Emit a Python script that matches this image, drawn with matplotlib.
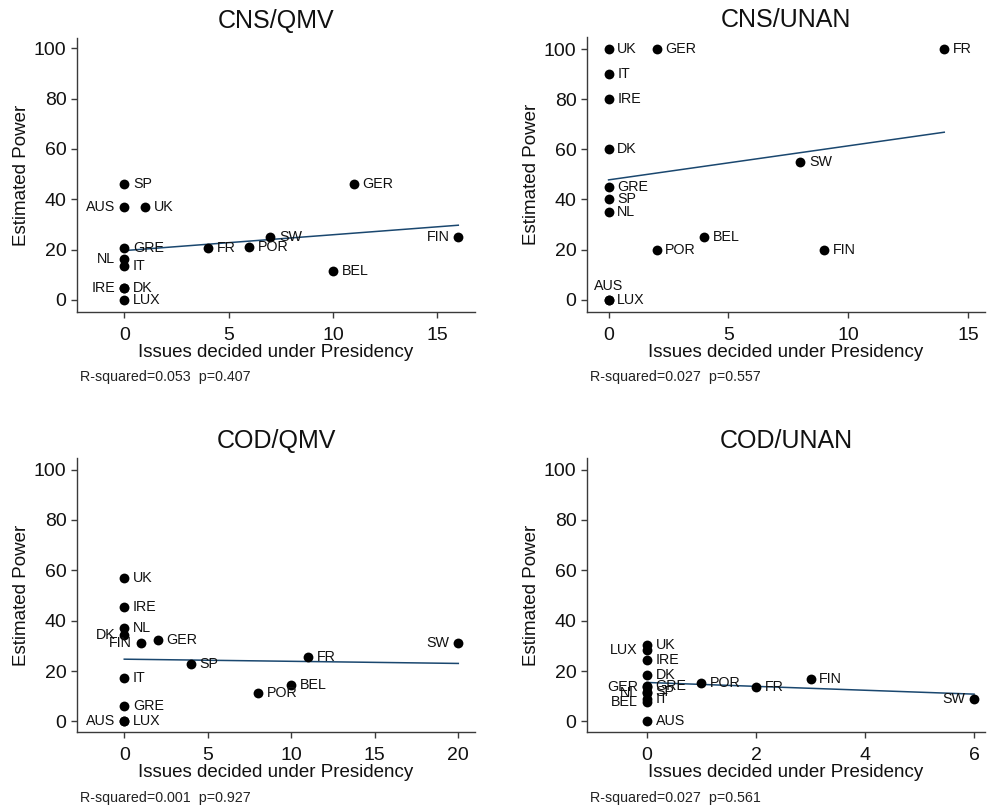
import matplotlib
matplotlib.use("Agg")
import matplotlib.pyplot as plt
import numpy as np

plt.rcParams['font.family'] = ['Liberation Sans', 'DejaVu Sans']

# ---------------- data ----------------
panel_titles = ["CNS/QMV", "CNS/UNAN", "COD/QMV", "COD/UNAN"]
fit_notes = ["R-squared=0.053  p=0.407", "R-squared=0.027  p=0.557",
             "R-squared=0.001  p=0.927", "R-squared=0.027  p=0.561"]

cns_qmv_countries = ["SP", "AUS", "UK", "GRE", "NL", "IT", "IRE", "DK", "LUX",
                     "FR", "POR", "SW", "GER", "BEL", "FIN"]
cns_qmv_issues = [0, 0, 1, 0, 0, 0, 0, 0, 0, 4, 6, 7, 11, 10, 16]
cns_qmv_power = [46, 37, 37, 20.5, 16.2, 13.5, 4.6, 4.6, 0, 20.5, 21.2, 25.2, 46, 11.3, 25.1]

cns_unan_countries = ["UK", "GER", "FR", "IT", "IRE", "DK", "SW", "GRE", "SP",
                      "NL", "BEL", "POR", "FIN", "AUS", "LUX"]
cns_unan_issues = [0, 2, 14, 0, 0, 0, 8, 0, 0, 0, 4, 2, 9, 0, 0]
cns_unan_power = [100, 100, 100, 90, 80, 60, 55, 45, 40, 35, 25, 20, 20, 0, 0]

cod_qmv_countries = ["UK", "IRE", "NL", "DK", "FIN", "GER", "SP", "IT", "GRE",
                     "AUS", "LUX", "POR", "BEL", "FR", "SW"]
cod_qmv_issues = [0, 0, 0, 0, 1, 2, 4, 0, 0, 0, 0, 8, 10, 11, 20]
cod_qmv_power = [57, 45.5, 37, 34.5, 31.2, 32.5, 22.8, 17.2, 6, 0, 0, 11.3, 14.3, 25.6, 31.1]

cod_unan_countries = ["UK", "LUX", "IRE", "DK", "GRE", "GER", "SP", "NL", "IT",
                      "BEL", "AUS", "POR", "FR", "FIN", "SW"]
cod_unan_issues = [0, 0, 0, 0, 0, 0, 0, 0, 0, 0, 0, 1, 2, 3, 6]
cod_unan_power = [30.3, 28.3, 24.3, 18.3, 14, 13.6, 11.8, 11.2, 8.8, 7.6, 0, 15.1, 13.6, 16.7, 9.1]

x_ticks_list = [[0, 5, 10, 15], [0, 5, 10, 15], [0, 5, 10, 15, 20], [0, 2, 4, 6]]
y_ticks = [0, 20, 40, 60, 80, 100]

# ---------------- styling / layout ----------------
# label placement: r = right, l = left, t = above
label_side = [
    ["r", "l", "r", "r", "l", "r", "l", "r", "r", "r", "r", "r", "r", "r", "l"],
    ["r", "r", "r", "r", "r", "r", "r", "r", "r", "r", "r", "r", "r", "t", "r"],
    ["r", "r", "r", "l", "l", "r", "r", "r", "r", "l", "r", "r", "r", "r", "l"],
    ["r", "l", "r", "r", "r", "l", "r", "l", "r", "l", "r", "r", "r", "r", "l"],
]
xlims = [(-2.26, 16.8), (-0.9, 15.7), (-2.83, 21.0), (-1.1, 6.2)]
ylims = [(-4.8, 104.1), (-4.9, 104.8), (-4.2, 104.6), (-4.2, 104.6)]

W, H = 991, 808
# (left, top, right, bottom) in pixels
boxes = [(77, 38, 475, 312), (587, 37, 985, 312),
         (77, 458, 475, 732), (587, 458, 985, 732)]
note_pos = [(80, 377), (590, 377), (80, 798), (590, 798)]

datasets = [
    (cns_qmv_countries, cns_qmv_issues, cns_qmv_power),
    (cns_unan_countries, cns_unan_issues, cns_unan_power),
    (cod_qmv_countries, cod_qmv_issues, cod_qmv_power),
    (cod_unan_countries, cod_unan_issues, cod_unan_power),
]

spine_col = "#3a3a3a"
line_col = "#1a476f"

fig = plt.figure(figsize=(W / 100, H / 100), dpi=100)
fig.patch.set_facecolor("white")

for i, (names, xs, ys) in enumerate(datasets):
    l, t, r, b = boxes[i]
    ax = fig.add_axes([l / W, (H - b) / H, (r - l) / W, (b - t) / H])
    xs_a = np.array(xs, dtype=float)
    ys_a = np.array(ys, dtype=float)
    ax.scatter(xs_a, ys_a, s=50, color="black", zorder=3, linewidths=0)
    slope, inter = np.polyfit(xs_a, ys_a, 1)
    xf = np.array([xs_a.min(), xs_a.max()])
    ax.plot(xf, inter + slope * xf, color=line_col, lw=1.1, zorder=2)
    for name, x, y, side in zip(names, xs, ys, label_side[i]):
        if side == "r":
            off, ha, va = (6.3, 0), "left", "center"
        elif side == "l":
            off, ha, va = (-6.5, 0), "right", "center"
        else:
            off, ha, va = (0, 5), "center", "bottom"
        ax.annotate(name, (x, y), xytext=off, textcoords="offset points",
                    ha=ha, va=va, fontsize=10.3, color="#111111", zorder=4)
    ax.set_xlim(*xlims[i])
    ax.set_ylim(*ylims[i])
    ax.set_xticks(x_ticks_list[i])
    ax.set_yticks(y_ticks)
    for s in ["top", "right"]:
        ax.spines[s].set_visible(False)
    for s in ["left", "bottom"]:
        ax.spines[s].set_color(spine_col)
        ax.spines[s].set_linewidth(1.0)
    ax.tick_params(axis="both", direction="out", length=4.6, width=1.0,
                   color=spine_col, labelsize=14, labelcolor="#111111")
    ax.tick_params(axis="y", pad=3)
    ax.tick_params(axis="x", pad=6.3)
    ax.set_xlabel("Issues decided under Presidency", fontsize=13.5,
                  labelpad=0, color="#111111")
    ax.set_ylabel("Estimated Power", fontsize=13.5, labelpad=3, color="#111111")
    ax.set_title(panel_titles[i], fontsize=18, pad=7, color="#111111")
    nx, ny = note_pos[i]
    fig.text(nx / W, 1 - ny / H, fit_notes[i], fontsize=10.3,
             ha="left", va="center", color="#222222")

fig.savefig("out.png", dpi=100, facecolor="white")
